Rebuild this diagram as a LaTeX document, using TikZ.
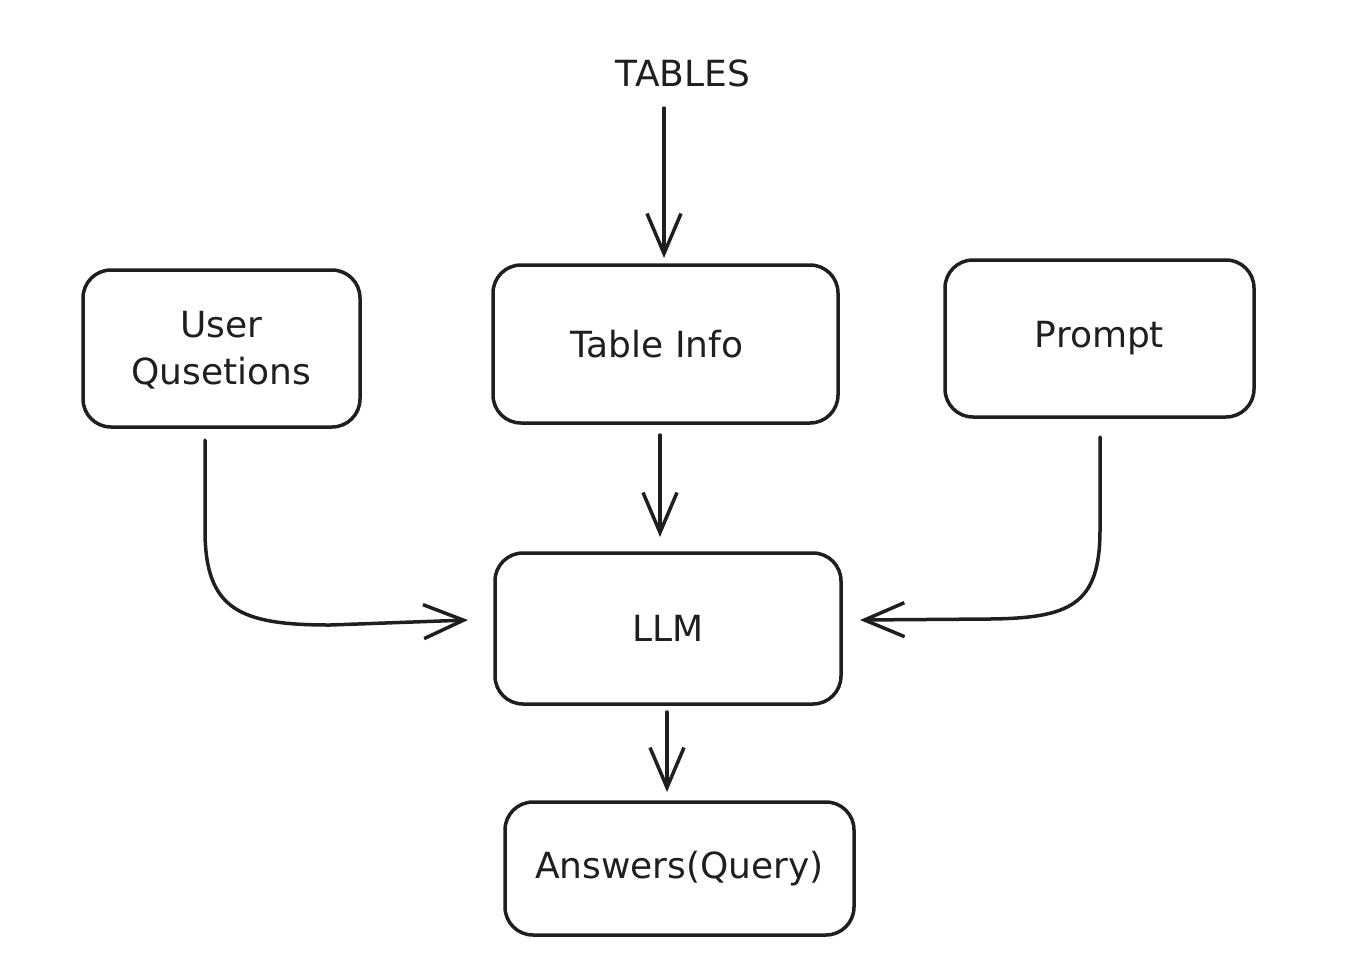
\documentclass[tikz,border=0pt]{standalone}
\usepackage{fontspec}
\setmainfont{DejaVu Sans}
\usetikzlibrary{arrows.meta}
\begin{document}
\begin{tikzpicture}[x=1pt,y=-1pt,
  box/.style={draw=black!88,line width=3.5pt,rounded corners=28pt},
  lbl/.style={font=\fontsize{36}{47}\selectfont,text=black!88,align=center},
  conn/.style={draw=black!88,line width=3.5pt,line cap=round,
    -{Straight Barb[length=40pt,width=34pt,line width=3.5pt]}}]
\useasboundingbox (0,0) rectangle (1360,978);
\draw[box] (83,270) rectangle (360,427);
\node[lbl] (uq) at (221.5,350) {User\\Qusetions};
\draw[box] (493,265) rectangle (838,423);
\node[lbl] (ti) at (657,344) {Table Info};
\draw[box] (945,260) rectangle (1254,417);
\node[lbl] (pr) at (1099.5,338.5) {Prompt};
\draw[box] (495,553) rectangle (841,704);
\node[lbl] (llm) at (668,628.5) {LLM};
\draw[box] (505,802) rectangle (854,935);
\node[lbl] (ans) at (679.5,868.5) {Answers(Query)};
\node[lbl] (tab) at (683,73) {TABLES};
\coordinate (tabS) at (664,108);
\coordinate (tiN) at (664,258);
\coordinate (tiS) at (660,435);
\coordinate (llmN) at (660,537);
\coordinate (llmS) at (667,712);
\coordinate (ansN) at (667,792);
\coordinate (uqS) at (205,440);
\coordinate (llmW) at (468,620);
\coordinate (prS) at (1100,437);
\coordinate (llmE) at (860,620);
\draw[conn] (tabS) -- (tiN);
\draw[conn] (tiS) -- (llmN);
\draw[conn] (llmS) -- (ansN);
\draw[conn] (uqS) -- (205,530) .. controls (205,610) and (240,625) .. (330,625) -- (llmW);
\draw[conn] (prS) -- (1100,530) .. controls (1100,605) and (1070,618) .. (990,619) -- (llmE);
\end{tikzpicture}
\end{document}
